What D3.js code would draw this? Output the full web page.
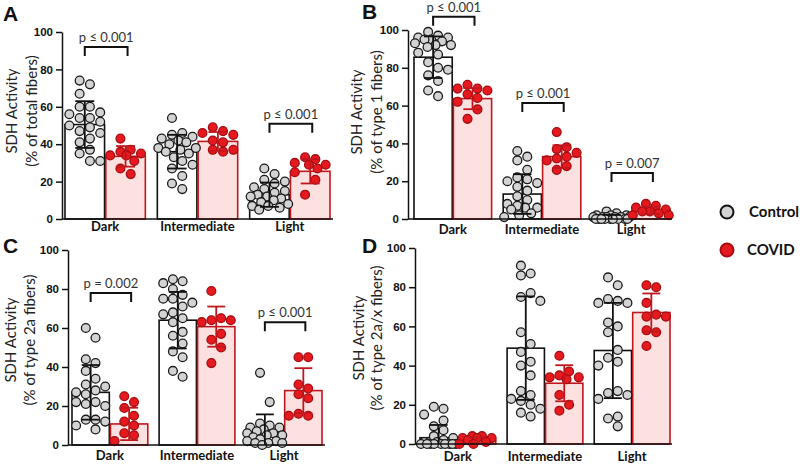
<!DOCTYPE html>
<html>
<head>
<meta charset="utf-8">
<script src="https://cdn.jsdelivr.net/npm/d3@7"></script>
<style>
  body { margin: 0; background: #fff; }
  svg { display: block; }
</style>
</head>
<body>
<svg id="chart" width="800" height="464"></svg>
<script>
var categories = ["Dark", "Intermediate", "Light"];
var groups = ["Control", "COVID"];
var yTicks = [0, 20, 40, 60, 80, 100];

// Panel A - % of total fibers
var aControlDots = [
  [74, 72, 67, 60, 60, 57, 56, 54, 54, 52, 50, 49, 47, 46, 43, 41, 37, 35, 31, 31],
  [54, 46, 45, 44, 43, 42, 41, 40, 38, 38, 37, 36, 35, 33, 31, 29, 27, 23, 19, 16],
  [27, 24, 21, 20, 19, 17, 16, 15, 14, 13, 12, 12, 11, 10, 9, 8, 7, 7, 6, 5]
];
var aCovidDots = [
  [43, 37, 36, 35, 34, 34, 31, 27, 24],
  [49, 47, 46, 45, 42, 41, 37, 37, 36],
  [33, 32, 30, 29, 29, 27, 25, 21, 13]
];
var aControlMean = [50.5, 36, 13];
var aControlSD = [12.5, 9, 6.5];
var aCovidMean = [33.5, 41.5, 25.5];
var aCovidSD = [5.5, 5, 6.5];
var aPvals = [["Dark", "p \u2264 0.001", 92], ["Light", "p \u2264 0.001", 51]];

// Panel B - % of type 1 fibers
var bControlDots = [
  [99, 97, 96, 96, 95, 95, 94, 93, 92, 92, 91, 88, 87, 83, 80, 79, 76, 73, 68, 65],
  [36, 33, 31, 26, 22, 21, 20, 19, 17, 15, 12, 10, 8, 7, 6, 6, 5, 3, 2, 1],
  [4, 3, 2, 2, 2, 1, 1, 1, 1, 1, 1, 0, 0, 0, 0, 0, 0, 0, 0, 0]
];
var bCovidDots = [
  [71, 69, 69, 68, 66, 64, 62, 58, 53],
  [46, 38, 37, 35, 33, 32, 31, 28, 26],
  [8, 7, 6, 5, 4, 4, 3, 2, 2]
];
var bControlMean = [85.6, 13.2, 1];
var bControlSD = [11, 10.5, 1.2];
var bCovidMean = [63.7, 33, 4.5];
var bCovidSD = [5.6, 6, 2];
var bPvals = [["Dark", "p \u2264 0.001", 107], ["Intermediate", "p \u2264 0.001", 61.4], ["Light", "p = 0.007", 24.3]];

// Panel C - % of type 2a fibers
var cControlDots = [
  [60, 55, 44, 42, 38, 34, 31, 30, 28, 27, 26, 22, 22, 21, 20, 13, 13, 12, 10, 8],
  [85, 84, 83, 80, 77, 75, 75, 73, 71, 68, 67, 65, 63, 58, 56, 52, 48, 45, 38, 35],
  [37, 22, 11, 10, 9, 9, 8, 7, 6, 6, 5, 5, 4, 3, 2, 2, 1, 1, 1, 0]
];
var cCovidDots = [
  [25, 22, 19, 15, 12, 10, 6, 5, 2],
  [79, 65, 64, 64, 63, 57, 54, 50, 42],
  [45, 45, 31, 29, 26, 24, 16, 15, 15]
];
var cControlMean = [27, 64, 7.7];
var cControlSD = [14, 14.5, 8];
var cCovidMean = [10.8, 60.7, 27.9];
var cCovidSD = [8.3, 10.3, 11.5];
var cPvals = [["Dark", "p = 0.002", 78], ["Light", "p \u2264 0.001", 63]];

// Panel D - % of type 2a/x fibers
var dControlDots = [
  [19, 18, 15, 12, 9, 7, 4, 3, 2, 1, 1, 0, 0, 0, 0, 0, 0, 0, 0, 0],
  [91, 87, 86, 77, 75, 73, 57, 51, 47, 42, 40, 35, 27, 25, 23, 22, 20, 18, 16, 14],
  [85, 81, 74, 73, 72, 72, 62, 60, 57, 48, 44, 42, 40, 27, 26, 25, 23, 14, 13, 9]
];
var dCovidDots = [
  [4, 4, 3, 3, 3, 2, 1, 0, 0],
  [45, 37, 35, 34, 34, 33, 25, 20, 17],
  [81, 80, 72, 66, 65, 65, 58, 57, 50]
];
var dControlMean = [3.2, 48.9, 47.7];
var dControlSD = [6.5, 26.4, 24.3];
var dCovidMean = [2, 31, 67.1];
var dCovidSD = [1.5, 9.2, 9.7];
var dPvals = [];

var panels = [
  {letter: "A", lx: 3, ly: 21, axisX: 62, y0: 219, y100: 32, range: [65, 330], xEnd: 333, catY: 231,
   labX: [13, 33], labY: 111, ylab: ["SDH Activity", "(% of total fibers)"],
   ctrl: aControlDots, cov: aCovidDots, ctrlMean: aControlMean, ctrlSD: aControlSD,
   covMean: aCovidMean, covSD: aCovidSD, pvals: aPvals},
  {letter: "B", lx: 362, ly: 19, axisX: 408, y0: 219, y100: 30, range: [414, 670], xEnd: 672, catY: 234,
   labX: [358, 378], labY: 112, ylab: ["SDH Activity", "(% of type 1 fibers)"],
   ctrl: bControlDots, cov: bCovidDots, ctrlMean: bControlMean, ctrlSD: bControlSD,
   covMean: bCovidMean, covSD: bCovidSD, pvals: bPvals},
  {letter: "C", lx: 3, ly: 253, axisX: 68, y0: 445, y100: 250, range: [72, 322], xEnd: 325, catY: 460,
   labX: [12, 31], labY: 340, ylab: ["SDH Activity", "(% of type 2a fibers)"],
   ctrl: cControlDots, cov: cCovidDots, ctrlMean: cControlMean, ctrlSD: cControlSD,
   covMean: cCovidMean, covSD: cCovidSD, pvals: cPvals},
  {letter: "D", lx: 362, ly: 253, axisX: 415, y0: 444, y100: 248, range: [420, 670], xEnd: 672, catY: 461,
   labX: [360, 378], labY: 338, ylab: ["SDH Activity", "(% of type 2a/x fibers)"],
   ctrl: dControlDots, cov: dCovidDots, ctrlMean: dControlMean, ctrlSD: dControlSD,
   covMean: dCovidMean, covSD: dCovidSD, pvals: dPvals}
];

var style = {
  Control: {fill: "#ffffff", stroke: "#111111", dot: "#d3d3d3", dotStroke: "#1a1a1a", err: "#111111"},
  COVID: {fill: "#fde1e1", stroke: "#c0171d", dot: "#e5191e", dotStroke: "#a50d12", err: "#c0171d"}
};
var R = 4.4;

var svg = d3.select("#chart");

// simple swarm: try columns, else spot with most room
function swarm(vals, cx, bw, y) {
  var cols = [-0.13, 0.13, -0.39, 0.39].map(function(f) { return f * bw; });
  var maxOff = bw / 2 - 1;
  var placed = [];
  function minDist(px, py) {
    var m = Infinity;
    placed.forEach(function(q) {
      var d = Math.hypot(px - q.x, py - q.y);
      if (d < m) m = d;
    });
    return m;
  }
  vals.slice().sort(function(a, b) { return b - a; }).forEach(function(v, i) {
    var py = y(v), best = null;
    var order = i % 2 ? [cols[1], cols[0], cols[3], cols[2]] : cols;
    for (var k = 0; k < order.length; k++) {
      if (minDist(cx + order[k], py) >= 2 * R + 0.4) { best = order[k]; break; }
    }
    if (best === null) {
      var bestD = -1;
      for (var o = -maxOff; o <= maxOff; o += 0.5) {
        var d = minDist(cx + o, py);
        if (d > bestD) { bestD = d; best = o; }
      }
    }
    placed.push({x: cx + best, y: py, v: v});
  });
  return placed;
}

panels.forEach(function(p) {
  var g = svg.append("g");
  var y = d3.scaleLinear().domain([0, 100]).range([p.y0, p.y100]);
  var x = d3.scaleBand().domain(categories).range(p.range).paddingInner(0.13).paddingOuter(0);
  var xs = d3.scaleBand().domain(groups).range([0, x.bandwidth()]).paddingInner(0.03).paddingOuter(0);
  var bw = xs.bandwidth();

  var rows = [];
  categories.forEach(function(cat, i) {
    rows.push({cat: cat, grp: "Control", mean: p.ctrlMean[i], sd: p.ctrlSD[i], dots: p.ctrl[i]});
    rows.push({cat: cat, grp: "COVID", mean: p.covMean[i], sd: p.covSD[i], dots: p.cov[i]});
  });
  rows.forEach(function(r) { r.x = x(r.cat) + xs(r.grp); r.cx = r.x + bw / 2; });

  // bars
  g.selectAll("rect.bar").data(rows).enter().append("rect")
    .attr("class", "bar")
    .attr("x", function(d) { return d.x; })
    .attr("y", function(d) { return y(d.mean); })
    .attr("width", bw)
    .attr("height", function(d) { return y(0) - y(d.mean); })
    .attr("fill", function(d) { return style[d.grp].fill; })
    .attr("stroke", function(d) { return style[d.grp].stroke; })
    .attr("stroke-width", 1.6);

  // dots
  rows.forEach(function(r) {
    g.append("g").selectAll("circle").data(swarm(r.dots, r.cx, bw, y)).enter().append("circle")
      .attr("cx", function(d) { return d.x; })
      .attr("cy", function(d) { return d.y; })
      .attr("r", R)
      .attr("fill", style[r.grp].dot)
      .attr("stroke", style[r.grp].dotStroke)
      .attr("stroke-width", 1.3);
  });

  // error bars (mean +/- SD)
  rows.forEach(function(r) {
    var lo = Math.max(0, r.mean - r.sd), hi = r.mean + r.sd;
    var e = g.append("g").attr("stroke", style[r.grp].err).attr("stroke-width", 1.8);
    e.append("line").attr("x1", r.cx).attr("x2", r.cx).attr("y1", y(lo)).attr("y2", y(hi));
    e.append("line").attr("x1", r.cx - bw * 0.24).attr("x2", r.cx + bw * 0.24).attr("y1", y(hi)).attr("y2", y(hi));
    if (lo > 0) e.append("line").attr("x1", r.cx - bw * 0.24).attr("x2", r.cx + bw * 0.24).attr("y1", y(lo)).attr("y2", y(lo));
  });

  // y axis with minor ticks
  var ax = g.append("g").attr("transform", "translate(" + p.axisX + ",0)");
  ax.call(d3.axisLeft(y).ticks(20).tickSize(3).tickSizeOuter(0).tickFormat(""));
  ax.call(d3.axisLeft(y).tickValues(yTicks).tickSize(6).tickSizeOuter(0).tickPadding(3));
  ax.selectAll("path, line").attr("stroke", "#111").attr("stroke-width", 1.5);
  ax.selectAll("text").attr("font-family", "Liberation Sans, Arial, sans-serif")
    .attr("font-weight", "bold").attr("font-size", 11.5).attr("fill", "#111");

  // x axis line and category labels
  g.append("line").attr("x1", p.axisX).attr("x2", p.xEnd).attr("y1", y(0)).attr("y2", y(0))
    .attr("stroke", "#111").attr("stroke-width", 1.6);
  g.selectAll("text.cat").data(categories).enter().append("text")
    .attr("class", "cat")
    .attr("x", function(d) { return x(d) + x.bandwidth() / 2; })
    .attr("y", p.catY)
    .attr("text-anchor", "middle")
    .attr("font-family", "Lato, sans-serif").attr("font-weight", "bold").attr("font-size", 13)
    .attr("fill", "#111")
    .text(function(d) { return d; });

  // y label
  p.ylab.forEach(function(t, i) {
    g.append("text")
      .attr("transform", "translate(" + p.labX[i] + "," + p.labY + ") rotate(-90)")
      .attr("text-anchor", "middle").attr("dominant-baseline", "middle")
      .attr("font-family", "Lato, sans-serif").attr("font-size", 15).attr("fill", "#222")
      .text(t);
  });

  // significance brackets
  p.pvals.forEach(function(pv) {
    var x1 = x(pv[0]) + xs("Control") + bw / 2;
    var x2 = x(pv[0]) + xs("COVID") + bw / 2 + 2;
    var yb = y(pv[2]);
    g.append("path")
      .attr("d", "M" + x1 + "," + (yb + 9) + "V" + yb + "H" + x2 + "V" + (yb + 9))
      .attr("fill", "none").attr("stroke", "#111").attr("stroke-width", 2);
    g.append("text")
      .attr("x", (x1 + x2) / 2).attr("y", yb - 5)
      .attr("text-anchor", "middle")
      .attr("font-family", "Lato, sans-serif").attr("font-size", 13).attr("fill", "#333")
      .text(pv[1]);
  });

  // panel letter
  svg.append("text").attr("x", p.lx).attr("y", p.ly)
    .attr("font-family", "Liberation Sans, Arial, sans-serif").attr("font-weight", "bold")
    .attr("font-size", 21).attr("fill", "#111")
    .text(p.letter);
});

// legend
var legend = svg.append("g").selectAll("g").data(groups).enter().append("g")
  .attr("transform", function(d, i) { return "translate(727," + (212 + i * 38) + ")"; });
legend.append("circle").attr("r", 6.5)
  .attr("fill", function(d) { return style[d].dot; })
  .attr("stroke", function(d) { return d === "Control" ? "#111" : "#a50d12"; })
  .attr("stroke-width", 2);
legend.append("text").attr("x", function(d, i) { return i ? 20 : 22; }).attr("y", 5)
  .attr("font-family", "Lato, sans-serif").attr("font-weight", "bold").attr("font-size", 15)
  .attr("fill", "#111")
  .text(function(d) { return d; });
</script>
</body>
</html>
